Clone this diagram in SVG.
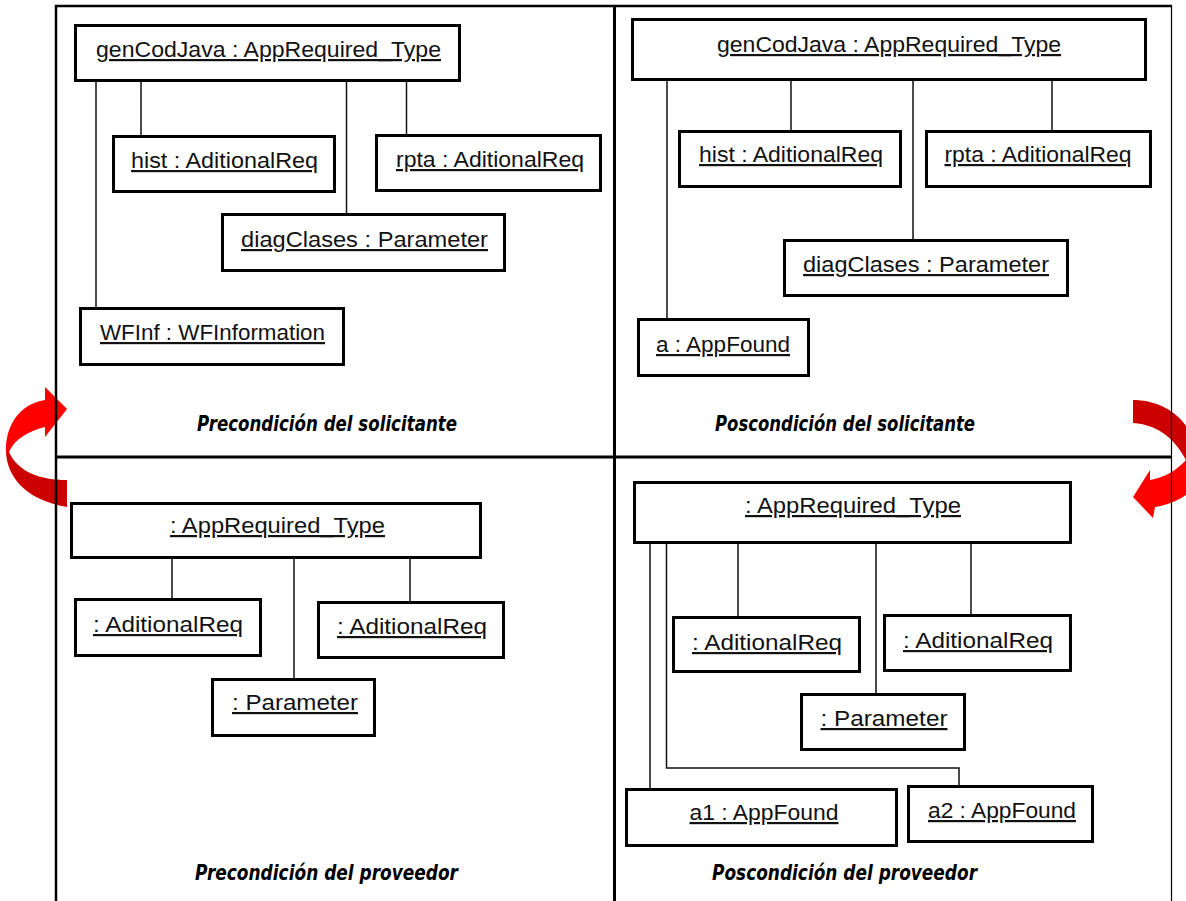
<svg xmlns="http://www.w3.org/2000/svg" width="1186" height="901" viewBox="0 0 1186 901">
<style>
.box{fill:#fff;stroke:#000;stroke-width:3}
.lbl{font-family:"Liberation Sans",Arial,sans-serif;font-size:22px;fill:#111;text-anchor:middle;text-decoration:underline}
.ttl{font-family:"DejaVu Sans","Liberation Sans",sans-serif;font-weight:bold;font-style:italic;font-size:22px;fill:#000;text-anchor:middle}
.con{fill:none;stroke:#111;stroke-width:1.5}
.frame{stroke:#000;fill:none}
</style>
<rect width="1186" height="901" fill="#fff"/>
<g id="arrows">
<path d="M 6,450 C 6,476 25,500 67,507 L 67,480 C 40,480 18,472 9,452 Z" fill="#cc0000"/>
<path d="M 45,387 L 67,409 L 45,437 L 45,427 C 28,431 14,440 9,452 L 6,452 C 5,428 18,404 45,400 Z" fill="#ff0000"/>
<path d="M 1133,400 C 1155,400 1178,410 1190,432 L 1190,460 L 1186,460 C 1175,440 1160,425 1133,423 Z" fill="#cc0000"/>
<path d="M 1190,458 L 1190,492 C 1180,500 1168,505 1155,507 L 1153,518 L 1133,497 L 1150,470 L 1150,480 C 1163,478 1176,471 1186,460 Z" fill="#ff0000"/>
</g>
<g id="frame" class="frame">
<line x1="55" y1="6" x2="1172" y2="6" stroke-width="2.5"/>
<line x1="56" y1="5" x2="56" y2="901" stroke-width="2.5"/>
<line x1="614.5" y1="5" x2="614.5" y2="901" stroke-width="3"/>
<line x1="56" y1="457" x2="1171" y2="457" stroke-width="3"/>
<line x1="1171.5" y1="5" x2="1171.5" y2="901" stroke-width="1.2"/>
</g>
<g id="connectors">
<line class="con" x1="96" y1="82" x2="96" y2="307"/>
<line class="con" x1="141" y1="82" x2="141" y2="135"/>
<line class="con" x1="346.5" y1="82" x2="346.5" y2="213"/>
<line class="con" x1="406.5" y1="82" x2="406.5" y2="134"/>
<line class="con" x1="667" y1="80" x2="667" y2="318"/>
<line class="con" x1="791" y1="80" x2="791" y2="130"/>
<line class="con" x1="913" y1="80" x2="913" y2="239"/>
<line class="con" x1="1052" y1="80" x2="1052" y2="130"/>
<line class="con" x1="172" y1="559" x2="172" y2="598"/>
<line class="con" x1="294" y1="559" x2="294" y2="678"/>
<line class="con" x1="410" y1="559" x2="410" y2="601"/>
<line class="con" x1="650" y1="544" x2="650" y2="788"/>
<polyline class="con" points="666.5,544 666.5,768 959,768 959,785"/>
<line class="con" x1="738" y1="544" x2="738" y2="616"/>
<line class="con" x1="876" y1="544" x2="876" y2="693"/>
<line class="con" x1="971" y1="544" x2="971" y2="614"/>
</g>
<g id="genTL"><rect class="box" x="75.5" y="25.5" width="384" height="55"/><text class="lbl" x="268.5" y="57" textLength="345" lengthAdjust="spacingAndGlyphs">genCodJava : AppRequired_Type</text></g>
<g id="histTL"><rect class="box" x="113.5" y="136.5" width="221" height="55"/><text class="lbl" x="224.5" y="168" textLength="187" lengthAdjust="spacingAndGlyphs">hist : AditionalReq</text></g>
<g id="rptaTL"><rect class="box" x="376.5" y="135.5" width="224" height="55"/><text class="lbl" x="490" y="167" textLength="188" lengthAdjust="spacingAndGlyphs">rpta : AditionalReq</text></g>
<g id="diagTL"><rect class="box" x="222.5" y="214.5" width="282" height="56"/><text class="lbl" x="364.5" y="247" textLength="247" lengthAdjust="spacingAndGlyphs">diagClases : Parameter</text></g>
<g id="wfTL"><rect class="box" x="80.5" y="308.5" width="263" height="56"/><text class="lbl" x="212.5" y="340" textLength="225" lengthAdjust="spacingAndGlyphs">WFInf : WFInformation</text></g>
<g id="genTR"><rect class="box" x="632.5" y="19.5" width="513" height="60"/><text class="lbl" x="889" y="52" textLength="344" lengthAdjust="spacingAndGlyphs">genCodJava : AppRequired_Type</text></g>
<g id="histTR"><rect class="box" x="679.5" y="131.5" width="221" height="55"/><text class="lbl" x="791" y="162" textLength="184" lengthAdjust="spacingAndGlyphs">hist : AditionalReq</text></g>
<g id="rptaTR"><rect class="box" x="926.5" y="131.5" width="224" height="55"/><text class="lbl" x="1038" y="162" textLength="187" lengthAdjust="spacingAndGlyphs">rpta : AditionalReq</text></g>
<g id="diagTR"><rect class="box" x="784.5" y="240.5" width="283" height="55"/><text class="lbl" x="926" y="272" textLength="246" lengthAdjust="spacingAndGlyphs">diagClases : Parameter</text></g>
<g id="aTR"><rect class="box" x="638.5" y="319.5" width="170" height="56"/><text class="lbl" x="723" y="352" textLength="134" lengthAdjust="spacingAndGlyphs">a : AppFound</text></g>
<g id="genBL"><rect class="box" x="71.5" y="503.5" width="409" height="54"/><text class="lbl" x="277.5" y="533" textLength="215" lengthAdjust="spacingAndGlyphs">: AppRequired_Type</text></g>
<g id="addLBL"><rect class="box" x="75.5" y="599.5" width="185" height="56"/><text class="lbl" x="168" y="632" textLength="150" lengthAdjust="spacingAndGlyphs">: AditionalReq</text></g>
<g id="addRBL"><rect class="box" x="318.5" y="602.5" width="185" height="55"/><text class="lbl" x="412" y="634" textLength="150" lengthAdjust="spacingAndGlyphs">: AditionalReq</text></g>
<g id="paramBL"><rect class="box" x="212.5" y="679.5" width="162" height="56"/><text class="lbl" x="295" y="710" textLength="126" lengthAdjust="spacingAndGlyphs">: Parameter</text></g>
<g id="genBR"><rect class="box" x="634.5" y="482.5" width="436" height="60"/><text class="lbl" x="853" y="513" textLength="216" lengthAdjust="spacingAndGlyphs">: AppRequired_Type</text></g>
<g id="addLBR"><rect class="box" x="673.5" y="617.5" width="186" height="54"/><text class="lbl" x="767" y="650" textLength="150" lengthAdjust="spacingAndGlyphs">: AditionalReq</text></g>
<g id="addRBR"><rect class="box" x="884.5" y="615.5" width="186" height="55"/><text class="lbl" x="978" y="648" textLength="150" lengthAdjust="spacingAndGlyphs">: AditionalReq</text></g>
<g id="paramBR"><rect class="box" x="801.5" y="694.5" width="163" height="55"/><text class="lbl" x="884" y="726" textLength="127" lengthAdjust="spacingAndGlyphs">: Parameter</text></g>
<g id="a1BR"><rect class="box" x="626.5" y="789.5" width="270" height="56"/><text class="lbl" x="764" y="820" textLength="149" lengthAdjust="spacingAndGlyphs">a1 : AppFound</text></g>
<g id="a2BR"><rect class="box" x="908.5" y="786.5" width="184" height="55"/><text class="lbl" x="1002" y="818" textLength="148" lengthAdjust="spacingAndGlyphs">a2 : AppFound</text></g>
<g id="titles">
<text class="ttl" x="327" y="431" textLength="260" lengthAdjust="spacingAndGlyphs">Precondición del solicitante</text>
<text class="ttl" x="845" y="431" textLength="260" lengthAdjust="spacingAndGlyphs">Poscondición del solicitante</text>
<text class="ttl" x="326.5" y="880" textLength="263" lengthAdjust="spacingAndGlyphs">Precondición del proveedor</text>
<text class="ttl" x="844.5" y="880" textLength="265" lengthAdjust="spacingAndGlyphs">Poscondición del proveedor</text>
</g>
</svg>
